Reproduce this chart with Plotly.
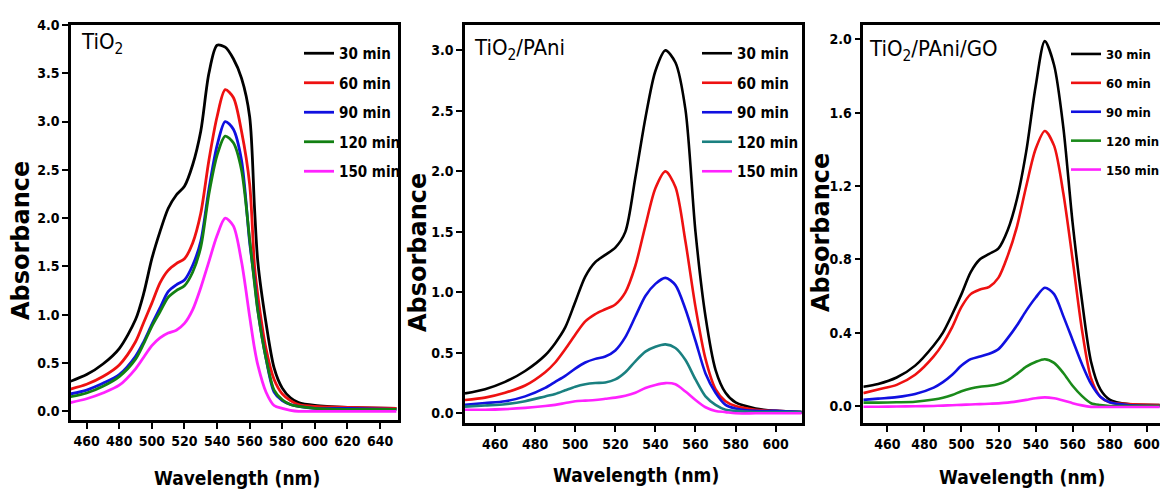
import plotly.graph_objects as go

# ---------------- data ----------------
times = ["30 min", "60 min", "90 min", "120 min", "150 min"]

# Panel 1: TiO2
wl_tio2 = [450, 460, 470, 480, 490, 495, 500, 505, 510, 515, 520, 525, 530, 535, 540,
           545, 550, 555, 560, 563, 565, 570, 575, 580, 585, 590, 600, 620, 650]
tio2_30 = [0.31, 0.38, 0.49, 0.65, 0.95, 1.22, 1.58, 1.86, 2.10, 2.24, 2.33, 2.55, 2.90, 3.50, 3.79,
           3.77, 3.65, 3.45, 3.05, 2.10, 1.55, 0.92, 0.45, 0.24, 0.14, 0.09, 0.06, 0.04, 0.03]
tio2_60 = [0.23, 0.28, 0.36, 0.48, 0.72, 0.92, 1.12, 1.33, 1.46, 1.53, 1.58, 1.74, 2.05, 2.60, 3.05,
           3.33, 3.25, 2.90, 2.35, 1.50, 1.20, 0.65, 0.33, 0.18, 0.11, 0.07, 0.05, 0.04, 0.03]
tio2_90 = [0.18, 0.22, 0.29, 0.38, 0.57, 0.72, 0.90, 1.07, 1.24, 1.31, 1.36, 1.51, 1.76, 2.30, 2.75,
           3.00, 2.92, 2.60, 1.75, 1.35, 1.05, 0.55, 0.20, 0.11, 0.07, 0.05, 0.03, 0.03, 0.02]
tio2_120 = [0.15, 0.19, 0.26, 0.36, 0.54, 0.70, 0.88, 1.03, 1.18, 1.25, 1.30, 1.44, 1.70, 2.25, 2.65,
            2.85, 2.78, 2.50, 1.78, 1.32, 1.04, 0.55, 0.22, 0.12, 0.07, 0.05, 0.03, 0.02, 0.02]
tio2_150 = [0.09, 0.13, 0.19, 0.27, 0.44, 0.56, 0.68, 0.76, 0.81, 0.84, 0.91, 1.05, 1.28, 1.55, 1.82,
            2.00, 1.92, 1.55, 0.98, 0.65, 0.48, 0.20, 0.06, 0.03, 0.01, 0.00, 0.00, 0.00, 0.00]

# Panel 2: TiO2/PAni
wl_pani = [445, 455, 465, 475, 485, 490, 495, 500, 505, 510, 515, 520, 525, 530, 535,
           540, 545, 550, 555, 560, 565, 570, 575, 580, 590, 600, 613]
pani_30 = [0.165, 0.20, 0.26, 0.35, 0.48, 0.58, 0.71, 0.92, 1.13, 1.25, 1.31, 1.37, 1.50, 1.95, 2.44,
           2.83, 3.00, 2.90, 2.51, 1.50, 0.80, 0.36, 0.17, 0.09, 0.04, 0.02, 0.01]
pani_60 = [0.11, 0.13, 0.17, 0.23, 0.34, 0.42, 0.53, 0.65, 0.76, 0.82, 0.86, 0.90, 1.00, 1.22, 1.55,
           1.86, 2.00, 1.87, 1.42, 0.88, 0.45, 0.20, 0.10, 0.06, 0.03, 0.02, 0.01]
pani_90 = [0.07, 0.085, 0.10, 0.14, 0.21, 0.26, 0.31, 0.37, 0.42, 0.45, 0.47, 0.52, 0.63, 0.80, 0.97,
           1.07, 1.12, 1.06, 0.86, 0.60, 0.33, 0.17, 0.07, 0.04, 0.02, 0.02, 0.01]
pani_120 = [0.055, 0.065, 0.075, 0.10, 0.14, 0.16, 0.19, 0.22, 0.24, 0.25, 0.255, 0.28, 0.34, 0.43, 0.51,
            0.55, 0.57, 0.54, 0.44, 0.28, 0.14, 0.07, 0.03, 0.02, 0.01, 0.01, 0.01]
pani_150 = [0.03, 0.03, 0.035, 0.045, 0.06, 0.07, 0.085, 0.10, 0.105, 0.11, 0.12, 0.13, 0.145, 0.17, 0.21,
            0.235, 0.25, 0.24, 0.18, 0.11, 0.05, 0.02, 0.01, 0.00, 0.00, 0.00, 0.00]

# Panel 3: TiO2/PAni/GO
wl_go = [447, 455, 465, 475, 485, 490, 495, 500, 505, 510, 515, 520, 525, 530, 535,
         540, 545, 550, 555, 560, 565, 570, 575, 580, 590, 607]
go_30 = [0.105, 0.12, 0.155, 0.22, 0.33, 0.40, 0.50, 0.61, 0.73, 0.80, 0.83, 0.86, 0.96, 1.13, 1.39,
         1.74, 1.99, 1.86, 1.52, 1.00, 0.58, 0.24, 0.09, 0.035, 0.01, 0.005]
go_60 = [0.07, 0.09, 0.115, 0.17, 0.27, 0.34, 0.43, 0.54, 0.61, 0.635, 0.65, 0.70, 0.82, 0.98, 1.20,
         1.40, 1.50, 1.42, 1.16, 0.80, 0.42, 0.15, 0.05, 0.02, 0.01, 0.005]
go_90 = [0.033, 0.04, 0.048, 0.065, 0.10, 0.13, 0.17, 0.22, 0.255, 0.27, 0.285, 0.31, 0.37, 0.44, 0.52,
         0.59, 0.645, 0.61, 0.49, 0.36, 0.23, 0.12, 0.05, 0.02, 0.005, 0.0]
go_120 = [0.018, 0.018, 0.02, 0.023, 0.035, 0.045, 0.06, 0.08, 0.095, 0.105, 0.11, 0.12, 0.14, 0.175, 0.215,
          0.24, 0.255, 0.235, 0.18, 0.11, 0.055, 0.015, 0.005, 0.0, 0.0, 0.0]
go_150 = [-0.004, -0.004, -0.003, -0.002, 0.0, 0.002, 0.004, 0.006, 0.008, 0.01, 0.012, 0.014, 0.018, 0.025, 0.033,
          0.042, 0.047, 0.042, 0.03, 0.015, 0.003, -0.005, -0.006, -0.006, -0.006, -0.006]

panel_titles = ["TiO<sub>2</sub>", "TiO<sub>2</sub>/PAni", "TiO<sub>2</sub>/PAni/GO"]
x_ticks = [[460, 480, 500, 520, 540, 560, 580, 600, 620, 640],
           [460, 480, 500, 520, 540, 560, 580, 600],
           [460, 480, 500, 520, 540, 560, 580, 600]]
y_ticks = [[0.0, 0.5, 1.0, 1.5, 2.0, 2.5, 3.0, 3.5, 4.0],
           [0.0, 0.5, 1.0, 1.5, 2.0, 2.5, 3.0],
           [0.0, 0.4, 0.8, 1.2, 1.6, 2.0]]

# ---------------- style ----------------
colors = [
    ["#000000", "#ee1111", "#1010e0", "#128012", "#ff22ff"],
    ["#000000", "#ee1111", "#1010e0", "#1a8080", "#ff22ff"],
    ["#000000", "#ee1111", "#1010e0", "#1a8a1a", "#ff22ff"],
]
NARROW = "DejaVu Sans Condensed, Liberation Sans Narrow, Roboto, Arial, sans-serif"
WIDE = "DejaVu Sans, Liberation Sans, Arial, sans-serif"

panels = [
    (wl_tio2, [tio2_30, tio2_60, tio2_90, tio2_120, tio2_150]),
    (wl_pani, [pani_30, pani_60, pani_90, pani_120, pani_150]),
    (wl_go, [go_30, go_60, go_90, go_120, go_150]),
]

W, H = 1160, 497
px = lambda v: v / W
py = lambda v: 1 - v / H

x_domains = [[px(71), px(398)], [px(465), px(801.7)], [px(863.3), 1.0]]
y_domains = [[py(420), py(25)], [py(423), py(25)], [py(423), py(25)]]
x_ranges = [[450.4, 651], [445, 613], [447, 607.2]]
y_ranges = [[-0.09, 4.0], [-0.08, 3.21], [-0.093, 2.078]]
legend_pos = [(299, 37), (697, 37), (1066, 39)]
legend_fs = [15, 15, 13]
legend_gap = [7, 7, 9]
lw = [2.8, 2.6, 2.6]

fig = go.Figure()
legend_names = ["legend", "legend2", "legend3"]
for p, (wl, series) in enumerate(panels):
    sfx = "" if p == 0 else str(p + 1)
    for i, ys in enumerate(series):
        fig.add_trace(go.Scatter(
            x=wl, y=ys, mode="lines", name=times[i],
            line=dict(color=colors[p][i], width=lw[p], shape="spline", smoothing=0.8),
            xaxis="x" + sfx, yaxis="y" + sfx,
            legend=legend_names[p], legendgroup=f"p{p}g{i}",
        ))

layout = dict(
    width=W, height=H,
    margin=dict(l=0, r=0, t=0, b=0, autoexpand=False),
    paper_bgcolor="white", plot_bgcolor="white",
    showlegend=True,
)
for p in range(3):
    sfx = "" if p == 0 else str(p + 1)
    layout["xaxis" + sfx] = dict(
        domain=x_domains[p], range=x_ranges[p], anchor="y" + sfx,
        tickvals=x_ticks[p], ticks="outside", ticklen=6, tickwidth=2, tickcolor="black",
        showline=True, linecolor="black", linewidth=2.5, mirror=True,
        showgrid=False, zeroline=False, ticklabeloverflow="allow",
        tickfont=dict(family=NARROW, size=14, color="black", weight="bold"),
    )
    layout["yaxis" + sfx] = dict(
        domain=y_domains[p], range=y_ranges[p], anchor="x" + sfx,
        tickvals=y_ticks[p], tickformat=".1f", ticks="outside", ticklen=6, tickwidth=2, tickcolor="black",
        showline=True, linecolor="black", linewidth=2.5, mirror=(p != 2),
        showgrid=False, zeroline=False,
        tickfont=dict(family=NARROW, size=14, color="black", weight="bold"),
    )
    lx, ly = legend_pos[p]
    layout[legend_names[p]] = dict(
        x=px(lx), y=py(ly), xanchor="left", yanchor="top",
        bgcolor="rgba(0,0,0,0)", borderwidth=0,
        font=dict(family=NARROW, size=legend_fs[p], color="black", weight="bold"),
        tracegroupgap=legend_gap[p], traceorder="grouped",
    )
fig.update_layout(**layout)

# panel labels
title_pos = [(79, 27), (472, 33), (867, 34)]
for p in range(3):
    fig.add_annotation(
        text=panel_titles[p], xref="paper", yref="paper",
        x=px(title_pos[p][0]), y=py(title_pos[p][1]), xanchor="left", yanchor="top",
        showarrow=False, font=dict(family=NARROW, size=22, color="black"),
    )

# axis titles
ytitle_pos = [(21, 241), (418, 253), (821, 233)]
xtitle_pos = [(237, 478), (636, 475), (1022, 477)]
for p in range(3):
    fig.add_annotation(
        text="Absorbance", xref="paper", yref="paper",
        x=px(ytitle_pos[p][0]), y=py(ytitle_pos[p][1]), xanchor="center", yanchor="middle",
        textangle=-90, showarrow=False,
        font=dict(family=WIDE, size=24, color="black", weight="bold"),
    )
    fig.add_annotation(
        text="Wavelength (nm)", xref="paper", yref="paper",
        x=px(xtitle_pos[p][0]), y=py(xtitle_pos[p][1]), xanchor="center", yanchor="middle",
        showarrow=False,
        font=dict(family=NARROW, size=19, color="black", weight="bold"),
    )

fig.write_html(
    "out.html",
    config={"displayModeBar": False},
    post_script="document.body.style.margin='0';document.body.style.overflow='hidden';",
)
